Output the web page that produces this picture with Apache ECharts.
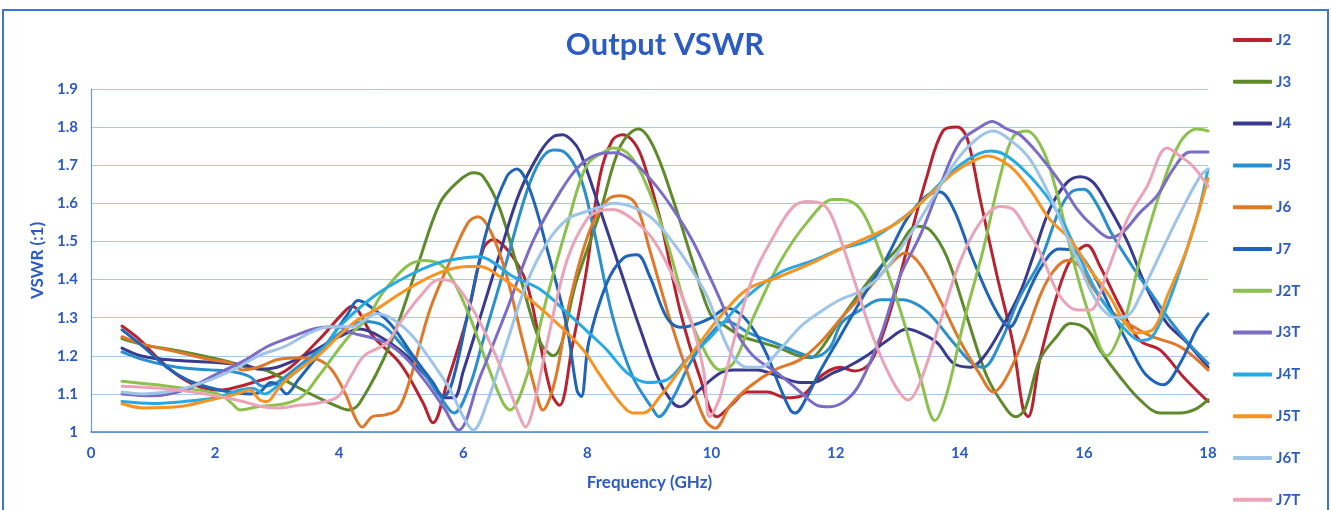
<!DOCTYPE html>
<html>
<head>
<meta charset="utf-8">
<script src="https://cdn.jsdelivr.net/npm/echarts@6/dist/echarts.min.js"></script>
<style>
html,body{margin:0;padding:0;background:#fff;}
#chart{width:1331px;height:510px;}
</style>
</head>
<body>
<div id="chart"></div>
<script>
// ---- Data: [frequency GHz, VSWR] ----
const seriesNames = ['J2','J3','J4','J5','J6','J7','J2T','J3T','J4T','J5T','J6T','J7T'];
const xTicks = [0,2,4,6,8,10,12,14,16,18];
const yTicks = [1,1.1,1.2,1.3,1.4,1.5,1.6,1.7,1.8,1.9];

const J2 = [[0.5,1.278],[0.8,1.24],[1.1,1.19],[1.43,1.145],[1.76,1.118],[2.08,1.11],[2.35,1.118],[2.61,1.13],[3.13,1.16],[3.66,1.24],[4.05,1.31],[4.2,1.33],[4.55,1.25],[4.98,1.18],[5.35,1.077],[5.51,1.024],[5.74,1.13],[6.06,1.30],[6.32,1.48],[6.48,1.505],[6.75,1.47],[7.02,1.39],[7.24,1.23],[7.42,1.10],[7.55,1.07],[7.75,1.22],[7.99,1.43],[8.2,1.67],[8.4,1.765],[8.57,1.78],[8.75,1.76],[8.9,1.71],[9.17,1.56],[9.49,1.32],[9.81,1.145],[10.09,1.04],[10.35,1.076],[10.57,1.105],[10.9,1.105],[11.2,1.09],[11.45,1.095],[11.75,1.145],[12.07,1.17],[12.3,1.16],[12.55,1.18],[12.83,1.29],[13.15,1.48],[13.47,1.67],[13.73,1.79],[13.96,1.80],[14.12,1.77],[14.33,1.61],[14.6,1.41],[14.86,1.23],[15.02,1.06],[15.1,1.04],[15.29,1.19],[15.56,1.355],[15.78,1.45],[16.05,1.49],[16.26,1.435],[16.58,1.33],[16.9,1.24],[17.23,1.215],[17.6,1.145],[18,1.08]];
const J3 = [[0.5,1.245],[0.82,1.23],[1.5,1.21],[2.2,1.185],[2.5,1.17],[2.85,1.16],[3.3,1.12],[3.66,1.09],[4.0,1.065],[4.15,1.058],[4.33,1.076],[4.82,1.23],[5.25,1.43],[5.62,1.60],[5.9,1.655],[6.16,1.68],[6.32,1.67],[6.59,1.585],[6.91,1.41],[7.24,1.235],[7.45,1.2],[7.83,1.40],[8.2,1.575],[8.53,1.75],[8.82,1.795],[9.06,1.75],[9.38,1.61],[9.7,1.445],[9.98,1.31],[10.2,1.28],[10.5,1.25],[10.8,1.235],[11.1,1.22],[11.4,1.20],[11.6,1.195],[11.75,1.215],[12.1,1.30],[12.6,1.41],[12.99,1.48],[13.31,1.54],[13.52,1.53],[13.79,1.46],[14.12,1.30],[14.44,1.145],[14.76,1.058],[14.9,1.04],[15.05,1.06],[15.29,1.19],[15.56,1.25],[15.78,1.285],[16.05,1.27],[16.26,1.215],[16.58,1.145],[16.9,1.085],[17.23,1.05],[17.55,1.05],[17.8,1.06],[18,1.085]];
const J4 = [[0.5,1.22],[0.8,1.2],[1.2,1.19],[1.7,1.185],[2.2,1.18],[2.5,1.175],[2.7,1.165],[3.0,1.17],[3.5,1.205],[4.0,1.25],[4.33,1.27],[4.66,1.25],[5.09,1.2],[5.41,1.145],[5.7,1.09],[5.85,1.09],[6.0,1.16],[6.27,1.30],[6.59,1.47],[6.91,1.63],[7.24,1.735],[7.45,1.775],[7.6,1.78],[7.75,1.765],[7.88,1.735],[8.2,1.585],[8.53,1.425],[8.85,1.27],[9.17,1.13],[9.38,1.076],[9.49,1.066],[9.8,1.11],[10.14,1.155],[10.35,1.163],[10.73,1.163],[11.1,1.145],[11.43,1.13],[11.64,1.13],[11.96,1.155],[12.18,1.17],[12.5,1.2],[12.83,1.24],[13.15,1.27],[13.36,1.26],[13.63,1.235],[13.9,1.18],[14.17,1.17],[14.4,1.2],[14.7,1.28],[14.97,1.365],[15.18,1.46],[15.45,1.585],[15.73,1.655],[15.94,1.67],[16.15,1.655],[16.37,1.60],[16.7,1.50],[17.02,1.375],[17.34,1.285],[17.66,1.235],[18,1.17]];
const J5 = [[0.5,1.21],[0.84,1.19],[1.39,1.17],[1.92,1.163],[2.29,1.158],[2.56,1.145],[2.77,1.12],[3.0,1.13],[3.4,1.18],[3.8,1.23],[4.1,1.27],[4.4,1.29],[4.7,1.28],[5.0,1.23],[5.3,1.17],[5.6,1.10],[5.85,1.05],[6.1,1.12],[6.3,1.23],[6.7,1.45],[7.02,1.63],[7.25,1.715],[7.45,1.74],[7.6,1.737],[7.88,1.67],[8.09,1.54],[8.41,1.30],[8.73,1.145],[9.06,1.058],[9.15,1.04],[9.38,1.09],[9.65,1.18],[9.95,1.25],[10.25,1.29],[10.6,1.26],[11.0,1.235],[11.3,1.215],[11.65,1.197],[11.9,1.22],[12.1,1.287],[12.4,1.32],[12.72,1.347],[13.09,1.347],[13.36,1.33],[13.57,1.30],[13.9,1.234],[14.2,1.18],[14.38,1.17],[14.65,1.234],[14.97,1.355],[15.3,1.45],[15.6,1.58],[15.8,1.63],[16.0,1.637],[16.2,1.60],[16.45,1.52],[16.8,1.43],[17.1,1.36],[17.4,1.29],[17.7,1.23],[18,1.18]];
const J6 = [[0.5,1.25],[0.84,1.23],[1.39,1.21],[1.92,1.19],[2.27,1.18],[2.43,1.163],[2.69,1.17],[3.01,1.19],[3.4,1.195],[3.66,1.19],[3.88,1.163],[4.1,1.10],[4.25,1.04],[4.37,1.013],[4.53,1.04],[4.74,1.045],[4.95,1.06],[5.14,1.137],[5.46,1.32],[5.79,1.45],[6.08,1.55],[6.24,1.565],[6.43,1.53],[6.67,1.426],[6.91,1.27],[7.16,1.11],[7.28,1.058],[7.48,1.137],[7.72,1.347],[8.04,1.53],[8.33,1.61],[8.53,1.62],[8.77,1.60],[9.0,1.48],[9.33,1.295],[9.65,1.137],[9.9,1.03],[10.06,1.01],[10.3,1.07],[10.62,1.12],[11.02,1.163],[11.43,1.19],[11.75,1.234],[12.15,1.31],[12.55,1.38],[12.88,1.44],[13.12,1.47],[13.36,1.44],[13.68,1.347],[14.0,1.24],[14.33,1.15],[14.54,1.105],[14.73,1.137],[15.05,1.25],[15.3,1.36],[15.5,1.42],[15.73,1.45],[15.9,1.44],[16.1,1.39],[16.42,1.32],[16.8,1.276],[17.1,1.25],[17.55,1.224],[18,1.163]];
const J7 = [[0.5,1.268],[0.84,1.224],[1.22,1.17],[1.55,1.137],[1.92,1.116],[2.24,1.105],[2.56,1.10],[2.72,1.105],[2.9,1.13],[3.0,1.125],[3.15,1.10],[3.34,1.137],[3.77,1.225],[4.14,1.31],[4.3,1.345],[4.45,1.335],[4.82,1.285],[5.19,1.2],[5.51,1.13],[5.68,1.093],[5.82,1.13],[6.06,1.30],[6.38,1.53],[6.7,1.67],[6.86,1.69],[7.07,1.637],[7.35,1.48],[7.67,1.275],[7.83,1.11],[7.9,1.093],[8.02,1.235],[8.31,1.39],[8.57,1.455],[8.8,1.465],[9.0,1.41],[9.28,1.30],[9.49,1.275],[9.7,1.28],[10.0,1.30],[10.25,1.325],[10.46,1.31],[10.67,1.27],[10.9,1.2],[11.1,1.118],[11.27,1.058],[11.35,1.05],[11.54,1.093],[11.75,1.16],[12.07,1.25],[12.44,1.355],[12.83,1.46],[13.15,1.56],[13.47,1.62],[13.68,1.63],[13.9,1.585],[14.17,1.47],[14.44,1.365],[14.65,1.30],[14.8,1.275],[15.0,1.33],[15.3,1.43],[15.6,1.48],[15.9,1.47],[16.2,1.40],[16.5,1.30],[16.75,1.22],[17.0,1.15],[17.28,1.124],[17.55,1.18],[17.82,1.27],[18,1.31]];
const J2T = [[0.5,1.133],[1.24,1.12],[2.05,1.10],[2.27,1.075],[2.4,1.058],[2.69,1.066],[3.13,1.075],[3.4,1.093],[3.66,1.145],[4.15,1.25],[4.46,1.3],[4.7,1.365],[5.09,1.435],[5.38,1.45],[5.7,1.43],[6.06,1.32],[6.38,1.18],[6.64,1.076],[6.75,1.058],[7.02,1.145],[7.35,1.355],[7.67,1.54],[7.99,1.70],[8.32,1.74],[8.41,1.745],[8.69,1.725],[8.96,1.645],[9.28,1.50],[9.6,1.32],[9.93,1.2],[10.14,1.163],[10.35,1.18],[10.67,1.30],[11.1,1.445],[11.54,1.55],[11.96,1.61],[12.1,1.61],[12.4,1.585],[12.72,1.47],[13.04,1.32],[13.36,1.145],[13.6,1.03],[13.79,1.10],[14.05,1.28],[14.38,1.48],[14.65,1.67],[14.86,1.775],[15.08,1.79],[15.34,1.74],[15.56,1.63],[15.83,1.45],[16.1,1.30],[16.37,1.2],[16.63,1.28],[16.9,1.45],[17.23,1.63],[17.55,1.76],[17.82,1.795],[18,1.79]];
const J3T = [[0.5,1.10],[1.0,1.095],[1.5,1.11],[2.0,1.15],[2.5,1.19],[2.85,1.225],[3.24,1.25],[3.66,1.273],[3.98,1.276],[4.2,1.26],[4.46,1.25],[4.8,1.23],[5.1,1.19],[5.4,1.13],[5.7,1.06],[5.92,1.005],[6.27,1.145],[6.7,1.32],[7.12,1.50],[7.56,1.63],[7.88,1.70],[8.2,1.73],[8.45,1.733],[8.73,1.71],[9.06,1.655],[9.38,1.585],[9.7,1.50],[10.02,1.39],[10.35,1.275],[10.67,1.2],[11.1,1.15],[11.43,1.105],[11.7,1.07],[11.9,1.066],[12.18,1.085],[12.4,1.13],[12.72,1.25],[13.04,1.41],[13.36,1.515],[13.68,1.645],[14.0,1.76],[14.33,1.80],[14.52,1.815],[14.76,1.795],[14.97,1.78],[15.29,1.725],[15.62,1.655],[15.89,1.585],[16.15,1.54],[16.42,1.51],[16.63,1.525],[16.9,1.575],[17.18,1.62],[17.44,1.69],[17.71,1.735],[18,1.735]];
const J4T = [[0.5,1.08],[1.0,1.075],[1.5,1.08],[2.0,1.09],[2.4,1.11],[2.6,1.115],[2.8,1.10],[3.0,1.12],[3.4,1.17],[3.8,1.23],[4.0,1.276],[4.55,1.355],[5.09,1.408],[5.62,1.445],[6.06,1.458],[6.27,1.46],[6.48,1.445],[6.8,1.408],[7.24,1.374],[7.67,1.313],[8.09,1.25],[8.31,1.216],[8.64,1.155],[8.96,1.13],[9.28,1.137],[9.6,1.19],[9.93,1.24],[10.19,1.287],[10.57,1.355],[11.1,1.418],[11.64,1.45],[12.07,1.48],[12.5,1.5],[12.9,1.54],[13.3,1.59],[13.7,1.655],[14.0,1.70],[14.3,1.73],[14.5,1.737],[14.7,1.73],[14.95,1.70],[15.3,1.64],[15.6,1.57],[15.9,1.47],[16.2,1.37],[16.5,1.30],[16.75,1.255],[16.9,1.24],[17.1,1.25],[17.34,1.33],[17.6,1.45],[17.85,1.58],[18,1.69]];
const J5T = [[0.5,1.074],[0.84,1.063],[1.39,1.066],[1.92,1.084],[2.35,1.10],[2.56,1.11],[2.72,1.084],[2.84,1.08],[3.0,1.11],[3.2,1.145],[3.66,1.2],[3.98,1.25],[4.3,1.295],[4.58,1.32],[5.09,1.374],[5.62,1.418],[6.06,1.434],[6.27,1.434],[6.59,1.408],[7.02,1.355],[7.5,1.287],[7.93,1.216],[8.2,1.15],[8.53,1.076],[8.73,1.05],[8.9,1.05],[9.17,1.093],[9.49,1.163],[9.81,1.234],[10.14,1.303],[10.57,1.374],[11.1,1.408],[11.64,1.445],[12.07,1.48],[12.5,1.51],[13.0,1.55],[13.5,1.62],[13.9,1.68],[14.2,1.71],[14.45,1.724],[14.81,1.697],[15.13,1.637],[15.45,1.558],[15.78,1.505],[16.1,1.426],[16.42,1.355],[16.63,1.295],[16.85,1.26],[17.12,1.27],[17.34,1.355],[17.66,1.48],[18,1.665]];
const J6T = [[0.5,1.105],[0.84,1.10],[1.39,1.11],[1.92,1.137],[2.35,1.168],[2.7,1.2],[3.13,1.225],[3.56,1.263],[3.88,1.276],[4.2,1.276],[4.42,1.295],[4.6,1.31],[4.87,1.295],[5.19,1.25],[5.51,1.18],[5.79,1.11],[6.0,1.04],[6.16,1.005],[6.38,1.076],[6.7,1.234],[7.02,1.39],[7.35,1.497],[7.67,1.558],[7.93,1.576],[8.2,1.59],[8.41,1.60],[8.73,1.59],[9.06,1.558],[9.38,1.497],[9.65,1.434],[9.93,1.355],[10.14,1.268],[10.35,1.197],[10.57,1.17],[10.78,1.17],[11.1,1.216],[11.43,1.276],[11.75,1.315],[12.07,1.347],[12.4,1.37],[12.72,1.41],[13.04,1.48],[13.36,1.558],[13.68,1.645],[14.0,1.724],[14.33,1.776],[14.54,1.79],[14.86,1.76],[15.13,1.716],[15.45,1.62],[15.73,1.513],[15.94,1.434],[16.1,1.374],[16.31,1.32],[16.53,1.30],[16.74,1.31],[16.9,1.355],[17.18,1.45],[17.5,1.558],[17.87,1.67],[18,1.69]];
const J7T = [[0.5,1.12],[1.11,1.115],[1.64,1.105],[2.08,1.093],[2.45,1.08],[2.77,1.066],[3.0,1.063],[3.34,1.07],[3.66,1.076],[3.98,1.093],[4.2,1.15],[4.4,1.2],[4.77,1.234],[4.98,1.287],[5.3,1.355],[5.62,1.40],[5.84,1.392],[6.16,1.32],[6.48,1.216],[6.7,1.13],[6.91,1.04],[7.0,1.013],[7.12,1.058],[7.35,1.234],[7.67,1.45],[7.99,1.558],[8.2,1.58],[8.41,1.584],[8.73,1.558],[9.06,1.505],[9.38,1.408],[9.65,1.303],[9.87,1.163],[9.97,1.04],[10.14,1.093],[10.35,1.234],[10.67,1.408],[11.0,1.513],[11.31,1.59],[11.54,1.605],[11.8,1.597],[11.96,1.558],[12.28,1.408],[12.6,1.25],[12.93,1.13],[13.17,1.084],[13.36,1.13],[13.68,1.287],[14.0,1.445],[14.33,1.55],[14.65,1.592],[14.86,1.584],[15.08,1.53],[15.3,1.47],[15.6,1.36],[15.9,1.32],[16.1,1.32],[16.37,1.418],[16.7,1.558],[17.02,1.645],[17.34,1.745],[17.55,1.724],[17.76,1.697],[18,1.645]];

const seriesData = [J2,J3,J4,J5,J6,J7,J2T,J3T,J4T,J5T,J6T,J7T];
const seriesColors = ['#b8232f','#5e8a2c','#3a3a8e','#2a8fcc','#e0782a','#1f64b6','#8cc14e','#7b6cc5','#27a9e1','#f7931e','#9ec4e8','#eba3b7'];

const TXT = '#2c5cc2';
const FONT = 'Lato, "Open Sans", sans-serif';

const chart = echarts.init(document.getElementById('chart'), null, {renderer:'canvas'});
chart.setOption({
  backgroundColor:'#ffffff',
  animation:false,
  title:{
    text:'Output VSWR', left:665, top:29, textAlign:'center', padding:0,
    textStyle:{color:TXT, fontSize:31, fontWeight:'bold', fontFamily:FONT}
  },
  graphic:[{
    type:'rect', shape:{x:3,y:10,width:1325,height:530}, silent:true,
    style:{fill:'none', stroke:'#3a77cf', lineWidth:2}
  }],
  legend:{
    orient:'vertical', left:1233, top:32, padding:0,
    itemWidth:39, itemHeight:4, itemGap:25.8, icon:'roundRect',
    textStyle:{color:TXT, fontSize:15, fontWeight:'bold', fontFamily:FONT, lineHeight:16, padding:[0,0,0,-1]},
    data:seriesNames
  },
  grid:{left:91, right:123, top:89, bottom:78},
  xAxis:{
    type:'value', min:xTicks[0], max:xTicks[xTicks.length-1], interval:2,
    name:'Frequency (GHz)', nameLocation:'middle', nameGap:42,
    nameTextStyle:{color:TXT, fontSize:17, fontWeight:'bold', fontFamily:FONT},
    axisLine:{lineStyle:{color:'#4a82d2', width:1.5}},
    axisTick:{show:false},
    axisLabel:{color:TXT, fontSize:15, fontWeight:'bold', fontFamily:FONT, margin:14},
    splitLine:{show:false}
  },
  yAxis:{
    type:'value', min:yTicks[0], max:yTicks[yTicks.length-1], interval:0.1,
    name:'VSWR (:1)', nameLocation:'middle', nameGap:44,
    nameTextStyle:{color:TXT, fontSize:17, fontWeight:'bold', fontFamily:FONT},
    axisLine:{show:true, lineStyle:{color:'#6a9bd8', width:1.2}},
    axisTick:{show:false},
    axisLabel:{color:TXT, fontSize:15, fontWeight:'bold', fontFamily:FONT, margin:13,
      formatter:function(v){return (Math.round(v*10)/10).toString();}},
    splitLine:{lineStyle:{color:'#a8c8ec', width:1}}
  },
  series: seriesNames.map(function(n,i){
    return {
      name:n, type:'line', data:seriesData[i], smooth:0.35, showSymbol:false,
      symbol:'none', color:seriesColors[i],
      lineStyle:{width:3, color:seriesColors[i], cap:'round', join:'round'}
    };
  })
});
</script>
</body>
</html>
